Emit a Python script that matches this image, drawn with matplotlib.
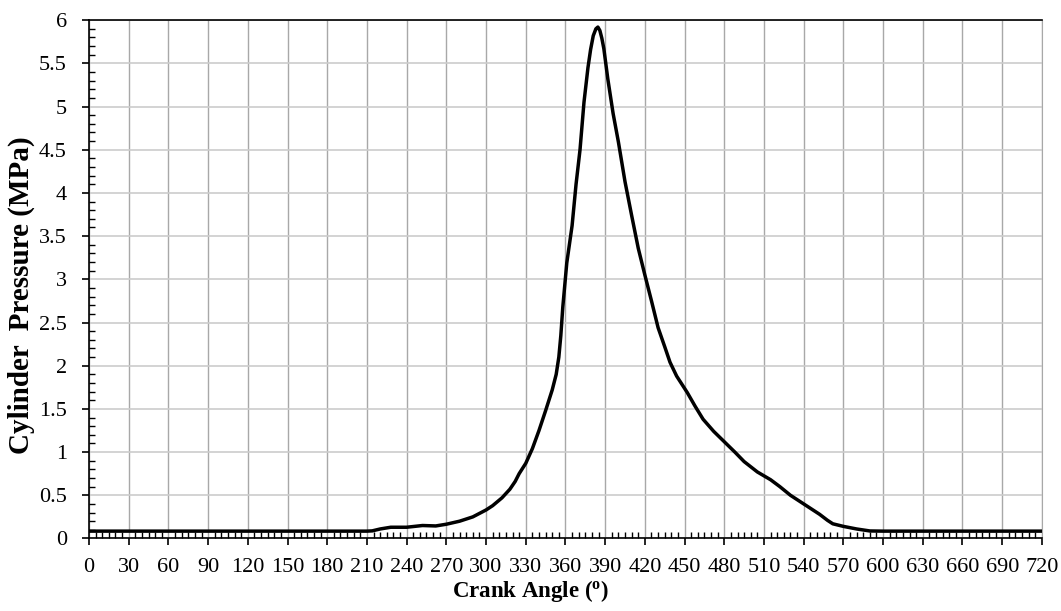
import matplotlib
matplotlib.use("Agg")
import matplotlib.pyplot as plt
from matplotlib.ticker import MultipleLocator

# Crank angle (deg) and cylinder pressure (MPa)
crank_angle = [0, 30, 60, 90, 120, 150, 180, 210, 214, 220, 228, 240, 252, 262,
               270, 280, 290, 300, 305, 312, 318, 322, 325, 330, 335, 340, 345,
               350, 353, 355, 356.5, 358, 361, 365, 368, 371, 374, 377, 379, 381,
               383, 384.5, 386, 387.5, 389, 392, 396, 400, 405, 410, 415, 420,
               425, 430, 435, 439, 444, 452, 458, 464, 472, 480, 488, 495, 505,
               515, 522, 530, 540, 552, 558, 562, 570, 580, 590, 600, 630, 660,
               690, 720]
pressure = [0.085, 0.085, 0.085, 0.085, 0.085, 0.085, 0.085, 0.085, 0.088, 0.11,
            0.13, 0.13, 0.15, 0.145, 0.165, 0.2, 0.25, 0.33, 0.38, 0.47, 0.57,
            0.66, 0.75, 0.87, 1.04, 1.25, 1.48, 1.72, 1.90, 2.10, 2.35, 2.68,
            3.19, 3.62, 4.10, 4.50, 5.05, 5.45, 5.66, 5.82, 5.90, 5.92, 5.88,
            5.79, 5.67, 5.32, 4.92, 4.59, 4.13, 3.74, 3.36, 3.05, 2.75, 2.44,
            2.22, 2.04, 1.88, 1.69, 1.53, 1.38, 1.24, 1.12, 1.00, 0.89, 0.77,
            0.68, 0.60, 0.50, 0.40, 0.28, 0.21, 0.17, 0.14, 0.11, 0.087, 0.085,
            0.085, 0.085, 0.085, 0.085]

x_ticks = list(range(0, 721, 30))
y_ticks = [0, 0.5, 1, 1.5, 2, 2.5, 3, 3.5, 4, 4.5, 5, 5.5, 6]
y_tick_labels = ["0", "0.5", "1", "1.5", "2", "2.5", "3", "3.5", "4", "4.5", "5", "5.5", "6"]

plt.rcParams["font.family"] = ["Liberation Serif", "DejaVu Serif"]
plt.rcParams["mathtext.fontset"] = "custom"
plt.rcParams["mathtext.rm"] = "Liberation Serif"
plt.rcParams["mathtext.bf"] = "Liberation Serif:bold"

fig = plt.figure(figsize=(10.61, 6.11), dpi=100)
ax = fig.add_axes([0.0839, 0.1187, 0.8981, 0.8483])

# Grid: vertical lines a bit darker than horizontal ones
for xv in x_ticks:
    ax.axvline(xv, color="#a8a8a8", linewidth=1.0, zorder=0)
for yv in y_ticks:
    ax.axhline(yv, color="#cccccc", linewidth=1.2, zorder=0)

# The curve
ax.plot(crank_angle, pressure, color="black", linewidth=2.5, solid_joinstyle="round",
        solid_capstyle="round", zorder=3)

ax.set_xlim(0, 720)
ax.set_ylim(0, 6)
ax.set_xticks(x_ticks)
ax.set_yticks(y_ticks)
ax.set_yticklabels(y_tick_labels)
ax.xaxis.set_minor_locator(MultipleLocator(5))
ax.yaxis.set_minor_locator(MultipleLocator(0.1))
ax.tick_params(axis="both", which="major", direction="out", length=5, width=1.2,
               labelsize=16, color="black")
ax.tick_params(axis="both", which="minor", direction="in", length=4, width=1.0, color="black")
ax.tick_params(axis="x", which="major", pad=9)
ax.tick_params(axis="y", which="major", pad=11)

for side in ["left", "bottom", "top"]:
    ax.spines[side].set_color("black")
    ax.spines[side].set_linewidth(1.2)
ax.spines["right"].set_color("#a8a8a8")

ax.set_xlabel(r"Crank Angle ($\mathregular{^o}$)", fontsize=16.5, fontweight="bold",
              labelpad=1, x=0.463)
ax.set_ylabel("Cylinder  Pressure (MPa)", fontsize=21, fontweight="bold",
              labelpad=3, y=0.47)

fig.savefig("out.png", dpi=100)
